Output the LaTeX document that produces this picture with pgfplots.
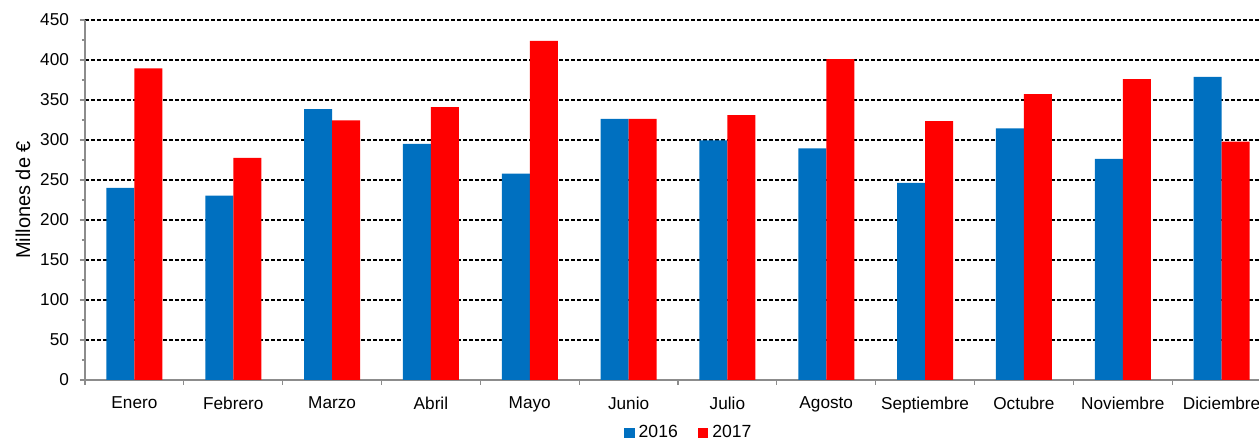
\documentclass[border=0pt]{standalone}
\usepackage{pgfplots}
\pgfplotsset{compat=1.18}
\usepackage{fontspec}
\setmainfont{Liberation Sans}
\definecolor{cblue}{HTML}{0070C0}
\definecolor{cred}{HTML}{FF0000}
\definecolor{axgray}{HTML}{8C8C8C}
\begin{document}
\begin{tikzpicture}[x=1pt,y=1pt]
\begin{axis}[
  at={(0,0)}, anchor=south west,
  scale only axis,
  width=593pt, height=180pt,
  xmin=-0.5, xmax=11.5,
  ymin=0, ymax=450,
  ytick={0,50,...,450},
  minor y tick num=1,
  xtick={-0.5,0.5,...,11.5},
  x tick label as interval,
  xticklabels={Enero,Febrero,Marzo,Abril,Mayo,Junio,Julio,Agosto,Septiembre,Octubre,Noviembre,Diciembre},
  tick align=outside,
  major tick length=2.5pt,
  minor tick length=1.5pt,
  every tick/.style={axgray, line width=0.6pt},
  minor y tick style={axgray, line width=0.6pt},
  axis x line*=bottom,
  axis y line*=left,
  axis line style={axgray, line width=1pt, -},
  ymajorgrids,
  major grid style={black, line width=0.55pt, dash pattern=on 2pt off 1pt},
  ybar, bar width=14pt,
  tick label style={font=\fontsize{8.6}{10}\selectfont},
  /pgf/number format/assume math mode=true,
  yticklabel style={xshift=-2pt},
  xticklabel style={yshift=-2.5pt},
  ylabel={Millones de €},
  ylabel style={font=\fontsize{8.4}{10}\selectfont},
  every axis y label/.style={at={(axis description cs:-0.0523,0.5)}, rotate=90, anchor=center},
  legend columns=2,
  legend style={draw=none, at={(0.51,-0.1475)}, anchor=center, font=\fontsize{8.8}{10}\selectfont, inner sep=0pt,
    /tikz/every even column/.append style={column sep=8pt}},
  legend image code/.code={\fill[#1] (0pt,-2.6pt) rectangle (5.2pt,2.6pt);},
  legend cell align=left,
]
\addplot[fill=cblue, draw=none, bar shift=-7pt] coordinates {
(0,240) (1,230.5) (2,338.5) (3,295) (4,258) (5,326.5) (6,299.5) (7,289.5) (8,246.5) (9,314.5) (10,276.5) (11,379)};
\addplot[fill=cred, draw=none, bar shift=7pt] coordinates {
(0,389.5) (1,277.5) (2,324.5) (3,341) (4,424) (5,326.5) (6,331) (7,401) (8,323.5) (9,357.5) (10,376) (11,298)};
\legend{2016,2017}
\end{axis}
\pgfresetboundingbox
\path[use as bounding box] (-42.5pt,-29.5pt) rectangle (587pt,190pt);
\end{tikzpicture}
\end{document}
